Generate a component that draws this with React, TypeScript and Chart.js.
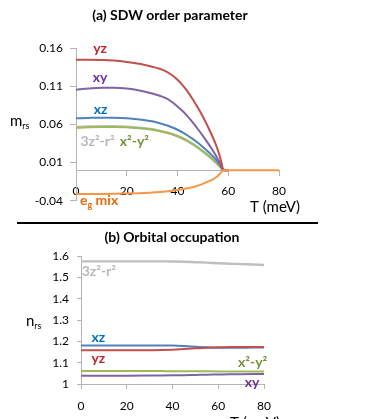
import React, { useEffect, useRef } from "react";
import { Chart, registerables } from "chart.js";
Chart.register(...registerables);

// ---------- (a) SDW order parameter ----------
const tempA = [0, 5, 10, 15, 20, 25, 30, 33, 36, 38, 40, 42, 44, 46, 48, 50, 52, 54, 55, 56, 57, 57.5, 58, 60];
const mYZ = [0.1446, 0.1446, 0.1444, 0.1436, 0.1418, 0.1393, 0.1355, 0.1328, 0.1285, 0.124, 0.1185, 0.1115, 0.103, 0.093, 0.082, 0.07, 0.057, 0.0425, 0.0345, 0.0255, 0.0145, 0.0075, 0.001, 0];
const mXY = [0.1055, 0.107, 0.108, 0.108, 0.107, 0.1045, 0.1005, 0.0975, 0.0935, 0.089, 0.0835, 0.0775, 0.0705, 0.0625, 0.054, 0.045, 0.0355, 0.0255, 0.02, 0.014, 0.007, 0.003, 0.0003, 0];
const mXZ = [0.068, 0.0685, 0.0688, 0.0688, 0.0682, 0.0665, 0.064, 0.0615, 0.0585, 0.056, 0.053, 0.0495, 0.0455, 0.041, 0.036, 0.0305, 0.0245, 0.018, 0.0145, 0.0105, 0.0055, 0.0025, 0.0003, 0];
const m3Z = [0.0565, 0.0572, 0.0576, 0.0576, 0.057, 0.0556, 0.0535, 0.0515, 0.049, 0.047, 0.0445, 0.0415, 0.038, 0.034, 0.0295, 0.0245, 0.0192, 0.0135, 0.0105, 0.0073, 0.0037, 0.0017, 0.0002, 0];
const mX2Y2 = [0.0555, 0.0562, 0.0566, 0.0567, 0.0562, 0.055, 0.0532, 0.0514, 0.0491, 0.0472, 0.0448, 0.0419, 0.0385, 0.0345, 0.03, 0.025, 0.0197, 0.0139, 0.0108, 0.0075, 0.0038, 0.0018, 0.0002, 0];
const tempEg = [0, 5, 10, 15, 20, 25, 30, 33, 36, 38, 40, 42, 44, 46, 48, 50, 52, 54, 55, 56, 57, 57.5, 58, 60, 65, 70, 75, 80];
const mEg = [-0.031, -0.031, -0.031, -0.0309, -0.0306, -0.03, -0.0292, -0.0285, -0.0276, -0.0269, -0.026, -0.0249, -0.0236, -0.0222, -0.0202, -0.0178, -0.015, -0.0118, -0.0098, -0.007, -0.0035, -0.0014, 0, 0, 0, 0, 0, 0];
const yTicksA = [-0.04, 0.01, 0.06, 0.11, 0.16];

// ---------- (b) Orbital occupation ----------
const tempB = [0, 10, 20, 30, 35, 40, 45, 50, 55, 60, 65, 70, 75, 80];
const n3Z = [1.575, 1.575, 1.575, 1.575, 1.5748, 1.5742, 1.573, 1.571, 1.569, 1.566, 1.564, 1.562, 1.56, 1.558];
const nXZ = [1.181, 1.181, 1.181, 1.181, 1.1805, 1.18, 1.178, 1.175, 1.172, 1.17, 1.17, 1.17, 1.171, 1.171];
const nYZ = [1.158, 1.158, 1.158, 1.158, 1.159, 1.161, 1.164, 1.167, 1.17, 1.172, 1.173, 1.174, 1.174, 1.174];
const nX2Y2 = [1.061, 1.061, 1.061, 1.0605, 1.0605, 1.06, 1.06, 1.0598, 1.0595, 1.059, 1.059, 1.0588, 1.0587, 1.0585];
const nXY = [1.039, 1.039, 1.039, 1.0393, 1.0398, 1.0405, 1.0415, 1.0425, 1.0435, 1.0445, 1.0455, 1.046, 1.0465, 1.047];
const xTicks = [0, 20, 40, 60, 80];

const FONT = "Lato, 'Open Sans', sans-serif";
const AXIS = "#b3b3b3";
const C = {
  red: "#c0504d", purple: "#8064a2", blue: "#4f81bd", green: "#9bbb59", gray: "#bfbfbf", orange: "#f79646",
  tRed: "#c0282d", tPurple: "#7030a0", tBlue: "#0070c0", tGray: "#b8b8b8", tGreen: "#77933c", tOrange: "#e46c0a",
};

type Part = { t: string; sub?: boolean };
type Txt = { parts: Part[]; x: number; y: number; data?: boolean; color: string; size: number; bold?: boolean; align?: "center" | "left" };

function drawParts(ctx: CanvasRenderingContext2D, l: Txt, x: number, y: number) {
  const font = (sub?: boolean) => `${l.bold ? "bold " : ""}${sub ? Math.round(l.size * 0.62) : l.size}px ${FONT}`;
  let total = 0;
  const ws = l.parts.map((p) => { ctx.font = font(p.sub); const w = ctx.measureText(p.t).width; total += w; return w; });
  let cx = (l.align ?? "center") === "center" ? x - total / 2 : x;
  ctx.fillStyle = l.color;
  ctx.textBaseline = "middle";
  ctx.textAlign = "left";
  l.parts.forEach((p, i) => {
    ctx.font = font(p.sub);
    ctx.fillText(p.t, cx, p.sub ? y + l.size * 0.32 : y);
    cx += ws[i];
  });
}

function textPlugin(items: Txt[]) {
  return {
    id: "texts",
    afterDraw(chart: any) {
      const ctx = chart.ctx as CanvasRenderingContext2D;
      ctx.save();
      for (const l of items) {
        const x = l.data ? chart.scales.x.getPixelForValue(l.x) : l.x;
        const y = l.data ? chart.scales.y.getPixelForValue(l.y) : l.y;
        drawParts(ctx, l, x, y);
      }
      ctx.restore();
    },
  };
}

const pts = (xs: number[], ys: number[]) => xs.map((x, i) => ({ x, y: ys[i] }));
const ds = (data: number[], xs: number[], color: string, order: number, width = 2) => ({
  data: pts(xs, data), borderColor: color, borderWidth: width, pointRadius: 0, fill: false,
  cubicInterpolationMode: "monotone" as const, order,
});

const tickFont = { family: FONT, size: 12 };

export default function App() {
  const refA = useRef<HTMLCanvasElement>(null);
  const refB = useRef<HTMLCanvasElement>(null);

  useEffect(() => {
    const a = new Chart(refA.current!, {
      type: "line",
      data: {
        datasets: [
          ds(mEg, tempEg, C.orange, 0),
          ds(mYZ, tempA, C.red, 1),
          ds(mXY, tempA, C.purple, 2),
          ds(mXZ, tempA, C.blue, 3),
          ds(mX2Y2, tempA, C.green, 4),
          ds(m3Z, tempA, C.gray, 5, 2.6),
        ],
      },
      options: {
        animation: false, responsive: false, maintainAspectRatio: false,
        layout: { padding: { top: 48, right: 95, bottom: 13, left: 0 } },
        plugins: { legend: { display: false }, title: { display: false }, tooltip: { enabled: false } },
        scales: {
          x: {
            type: "linear", min: 0, max: 80, position: { y: 0 } as any,
            afterBuildTicks: (s: any) => { s.ticks = xTicks.map((v) => ({ value: v })); },
            ticks: { font: tickFont, color: "#000", padding: 9, maxRotation: 0 },
            grid: { drawOnChartArea: false, drawTicks: true, tickLength: 5, color: AXIS },
            border: { color: AXIS, width: 1 },
          },
          y: {
            type: "linear", min: -0.04, max: 0.16,
            afterBuildTicks: (s: any) => { s.ticks = yTicksA.map((v) => ({ value: v })); },
            afterFit: (s: any) => { s.width = 76; },
            ticks: { font: tickFont, color: "#000", padding: 7, callback: (v: any) => String(Math.round(v * 100) / 100) },
            grid: { drawOnChartArea: false, drawTicks: true, tickLength: 6, color: AXIS },
            border: { color: AXIS, width: 1 },
          },
        },
      },
      plugins: [textPlugin([
        { parts: [{ t: "(a) SDW order parameter" }], x: 170, y: 15, color: "#000", size: 14, bold: true },
        { parts: [{ t: "m" }, { t: "rs", sub: true }], x: 10, y: 121, color: "#000", size: 15, align: "left" },
        { parts: [{ t: "T (meV)" }], x: 275, y: 207, color: "#000", size: 15 },
        { parts: [{ t: "yz" }], x: 9.5, y: 0.159, data: true, color: C.tRed, size: 14, bold: true },
        { parts: [{ t: "xy" }], x: 9.5, y: 0.122, data: true, color: C.tPurple, size: 14, bold: true },
        { parts: [{ t: "xz" }], x: 9.7, y: 0.0795, data: true, color: C.tBlue, size: 14, bold: true },
        { parts: [{ t: "3z²-r²" }], x: 8.5, y: 0.038, data: true, color: C.tGray, size: 14, bold: true },
        { parts: [{ t: "x²-y²" }], x: 23, y: 0.038, data: true, color: C.tGreen, size: 14, bold: true },
        { parts: [{ t: "e" }, { t: "g", sub: true }, { t: " mix" }], x: 9.1, y: -0.04, data: true, color: C.tOrange, size: 14, bold: true },
      ]) as any],
    } as any);

    const b = new Chart(refB.current!, {
      type: "line",
      data: {
        datasets: [
          ds(nYZ, tempB, C.red, 0),
          ds(nXZ, tempB, C.blue, 1),
          ds(nX2Y2, tempB, C.green, 2),
          ds(nXY, tempB, C.purple, 3),
          ds(n3Z, tempB, C.gray, 4, 2.4),
        ],
      },
      options: {
        animation: false, responsive: false, maintainAspectRatio: false,
        layout: { padding: { top: 31, right: 110, bottom: 0, left: 0 } },
        plugins: { legend: { display: false }, title: { display: false }, tooltip: { enabled: false } },
        scales: {
          x: {
            type: "linear", min: 0, max: 80,
            afterBuildTicks: (s: any) => { s.ticks = xTicks.map((v) => ({ value: v })); },
            afterFit: (s: any) => { s.height = 35; },
            ticks: { font: tickFont, color: "#000", padding: 10, maxRotation: 0 },
            grid: { drawOnChartArea: false, drawTicks: true, tickLength: 5, color: AXIS },
            border: { color: AXIS, width: 1 },
          },
          y: {
            type: "linear", min: 1, max: 1.6,
            ticks: { stepSize: 0.1, font: tickFont, color: "#000", padding: 8, callback: (v: any) => String(Math.round(v * 10) / 10) },
            afterFit: (s: any) => { s.width = 81; },
            grid: { drawOnChartArea: false, drawTicks: true, tickLength: 4, color: AXIS },
            border: { color: AXIS, width: 1 },
          },
        },
      },
      plugins: [textPlugin([
        { parts: [{ t: "(b) Orbital occupation" }], x: 172, y: 12, color: "#000", size: 14, bold: true },
        { parts: [{ t: "n" }, { t: "rs", sub: true }], x: 26, y: 96, color: "#000", size: 15, align: "left" },
        { parts: [{ t: "T (meV)" }], x: 255, y: 198, color: "#000", size: 15 },
        { parts: [{ t: "3z²-r²" }], x: 7.8, y: 1.528, data: true, color: C.tGray, size: 14, bold: true },
        { parts: [{ t: "xz" }], x: 7.6, y: 1.216, data: true, color: C.tBlue, size: 14, bold: true },
        { parts: [{ t: "yz" }], x: 7.6, y: 1.118, data: true, color: C.tRed, size: 14, bold: true },
        { parts: [{ t: "x²-y²" }], x: 75, y: 1.099, data: true, color: C.tGreen, size: 14, bold: true },
        { parts: [{ t: "xy" }], x: 74.8, y: 1.005, data: true, color: C.tPurple, size: 14, bold: true },
      ]) as any],
    } as any);

    return () => { a.destroy(); b.destroy(); };
  }, []);

  return (
    <div style={{ position: "fixed", left: 0, top: 0, width: 374, height: 419, background: "#fff", overflow: "hidden" }}>
      <canvas ref={refA} width={374} height={215} style={{ position: "absolute", left: 0, top: 0, width: 374, height: 215 }} />
      <div style={{ position: "absolute", left: 17, top: 222, width: 301, height: 2, background: "#000" }} />
      <canvas ref={refB} width={374} height={194} style={{ position: "absolute", left: 0, top: 225, width: 374, height: 194 }} />
    </div>
  );
}
